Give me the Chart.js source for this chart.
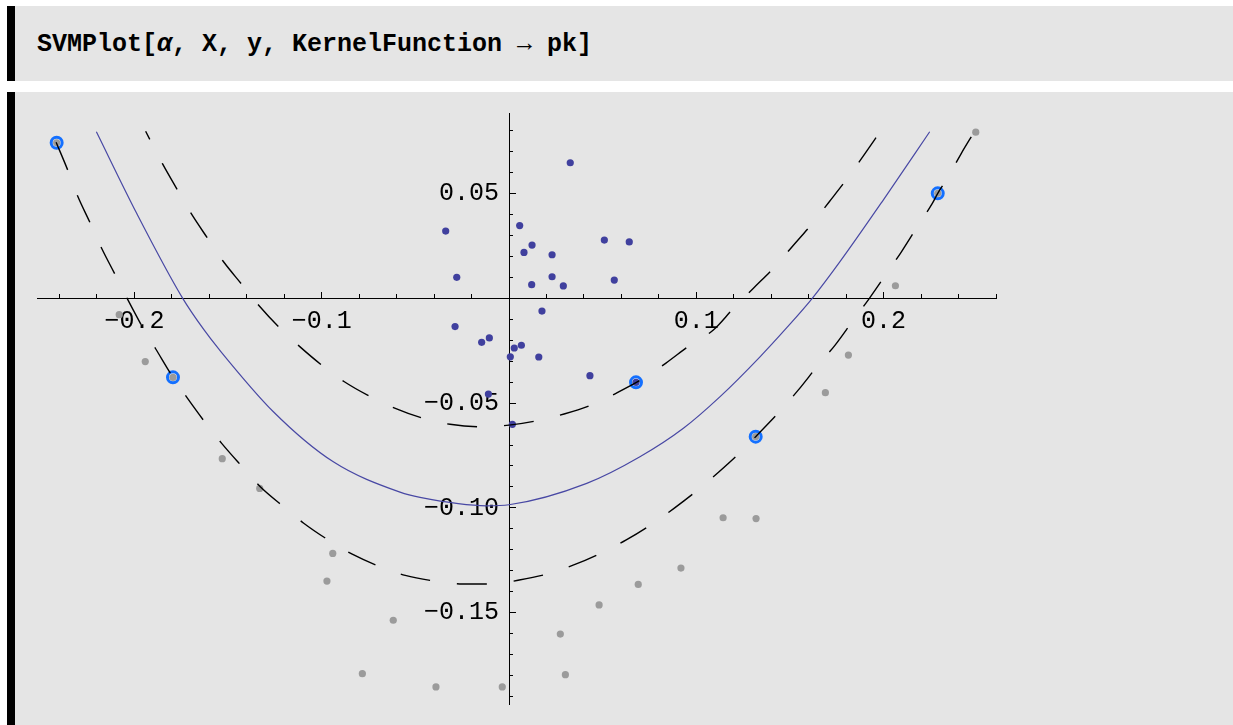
<!DOCTYPE html>
<html>
<head>
<meta charset="utf-8">
<script src="https://cdn.jsdelivr.net/npm/chart.js@4.4.1/dist/chart.umd.min.js"></script>
<style>
html,body{margin:0;padding:0;background:#fff;width:1233px;height:725px;overflow:hidden;}
#hdr{position:absolute;left:7px;top:6px;width:1218px;height:75px;background:#e5e5e5;border-left:8px solid #000;}
#hdr span.code{position:absolute;left:22px;top:25px;font:bold 25px/28px "Liberation Mono",monospace;color:#000;white-space:pre;}
#hdr i{font-style:italic;}
#cell{position:absolute;left:7px;top:92px;width:1218px;height:640px;background:#e5e5e5;border-left:8px solid #000;}
#wrap{position:absolute;left:0;top:92px;width:1233px;height:633px;}
</style>
</head>
<body>
<div id="hdr"><span class="code">SVMPlot[<i>α</i>, X, y, KernelFunction → pk]</span></div>
<div id="cell"></div>
<div id="wrap"><canvas id="c" width="1233" height="633"></canvas></div>
<script>
// ---- data ----
// class +1 (dark blue dots)
const posX = [-0.0338,-0.0279,0.0057,0.0123,0.0080,0.0230,0.0327,0.0509,0.0642,0.0121,0.0230,0.0290,0.0562,0.0176,-0.0288,-0.0105,-0.0146,0.0066,0.0028,0.0007,0.0159,0.0432,-0.0110,0.0018,0.0678];
const posY = [0.0321,0.0100,0.0347,0.0254,0.0219,0.0208,0.0647,0.0278,0.0269,0.0065,0.0103,0.0059,0.0087,-0.0061,-0.0135,-0.0189,-0.0210,-0.0224,-0.0237,-0.0279,-0.0280,-0.0369,-0.0457,-0.0601,-0.0401];
// class -1 (gray dots)
const negX = [-0.2415,-0.2081,0.2492,0.2289,0.2063,-0.1942,-0.1794,-0.1531,-0.1331,-0.0941,-0.0972,-0.0618,-0.0783,-0.0390,-0.0036,0.0274,0.0301,0.0481,0.0690,0.0918,0.1143,0.1319,0.1317,0.1812,0.1689];
const negY = [0.0742,-0.0078,0.0793,0.0501,0.0060,-0.0302,-0.0377,-0.0765,-0.0907,-0.1217,-0.1349,-0.1536,-0.1791,-0.1854,-0.1854,-0.1602,-0.1796,-0.1463,-0.1365,-0.1287,-0.1047,-0.1051,-0.0660,-0.0271,-0.0450];
// support vectors (rings)
const svX = [-0.2415,-0.1794,0.0678,0.1317,0.2289];
const svY = [0.0742,-0.0377,-0.0401,-0.0660,0.0501];
// decision boundary (solid)
const boundX = [-0.2203,-0.1988,-0.1742,-0.1628,-0.1552,-0.1258,-0.0938,-0.0582,-0.0475,-0.0120,0.0000,0.0415,0.0699,0.0931,0.1127,0.1340,0.1483,0.1619,0.1767,0.1998,0.2246];
const boundY = [0.0795,0.0406,0.0000,-0.0151,-0.0239,-0.0541,-0.0780,-0.0925,-0.0950,-0.0990,-0.0985,-0.0883,-0.0756,-0.0620,-0.0469,-0.0279,-0.0140,0.0000,0.0175,0.0469,0.0795];
// upper margin (dashed)
const upX = [-0.1940,-0.1851,-0.1772,-0.1698,-0.1609,-0.1527,-0.1427,-0.1333,-0.1226,-0.1120,-0.0998,-0.0879,-0.0740,-0.0607,-0.0457,-0.0315,-0.0155,0.0000,0.0148,0.0294,0.0443,0.0578,0.0717,0.0838,0.0966,0.1091,0.1198,0.1305,0.1416,0.1515,0.1616,0.1710,0.1805,0.1892,0.1981];
const upY = [0.0797,0.0644,0.0520,0.0406,0.0286,0.0178,0.0067,-0.0037,-0.0140,-0.0228,-0.0320,-0.0398,-0.0469,-0.0525,-0.0573,-0.0601,-0.0613,-0.0605,-0.0584,-0.0552,-0.0508,-0.0450,-0.0382,-0.0309,-0.0224,-0.0151,-0.0048,0.0048,0.0148,0.0250,0.0354,0.0461,0.0571,0.0680,0.0795];
// lower margin (dashed)
const loX = [-0.2418,-0.2356,-0.2303,-0.2237,-0.2175,-0.2104,-0.2036,-0.1953,-0.1885,-0.1794,-0.1719,-0.1625,-0.1534,-0.1429,-0.1328,-0.1208,-0.1096,-0.0965,-0.0837,-0.0692,-0.0554,-0.0397,-0.0249,-0.0092,0.0055,0.0210,0.0349,0.0495,0.0626,0.0762,0.0881,0.1007,0.1120,0.1237,0.1317,0.1447,0.1545,0.1651,0.1741,0.1835,0.1924,0.2013,0.2095,0.2180,0.2260,0.2289,0.2342,0.2415,0.2479];
const loY = [0.0745,0.0612,0.0488,0.0361,0.0239,0.0115,-0.0005,-0.0143,-0.0243,-0.0377,-0.0474,-0.0589,-0.0692,-0.0799,-0.0899,-0.0991,-0.1073,-0.1153,-0.1221,-0.1279,-0.1322,-0.1349,-0.1363,-0.1363,-0.1344,-0.1314,-0.1271,-0.1214,-0.1153,-0.1078,-0.1002,-0.0915,-0.0829,-0.0733,-0.0660,-0.0538,-0.0437,-0.0318,-0.0223,-0.0108,0.0000,0.0115,0.0222,0.0342,0.0453,0.0501,0.0575,0.0692,0.0787];
// ticks
const xMajorTicks = [-0.2,-0.1,0.1,0.2];
const xTickLabels = ['\u22120.2','\u22120.1','0.1','0.2'];
const xMinorTicks = [-0.24,-0.22,-0.20,-0.18,-0.16,-0.14,-0.12,-0.10,-0.08,-0.06,-0.04,-0.02,0.02,0.04,0.06,0.08,0.10,0.12,0.14,0.16,0.18,0.20,0.22,0.24,0.26];
const yMajorTicks = [-0.15,-0.1,-0.05,0.05];
const yTickLabels = ['\u22120.15','\u22120.10','\u22120.05','0.05'];
const yMinorTicks = [-0.19,-0.18,-0.17,-0.16,-0.15,-0.14,-0.13,-0.12,-0.11,-0.10,-0.09,-0.08,-0.07,-0.06,-0.05,-0.04,-0.03,-0.02,-0.01,0.01,0.02,0.03,0.04,0.05,0.06,0.07,0.08];

// ---- chart ----
const X_MIN = -0.252, X_MAX = 0.26, Y_MIN = -0.194, Y_MAX = 0.088;
const Y_LABEL_AT = -0.0053;
const pts = (xs, ys) => xs.map((x, i) => ({x: x, y: ys[i]}));
const axisFont = {family: '"Liberation Mono", monospace', size: 25};
const setTicks = (arr) => (s) => { s.ticks = arr.map(v => ({value: v})); };

new Chart(document.getElementById('c'), {
  type: 'scatter',
  data: {
    datasets: [
      {data: pts(boundX, boundY), showLine: true, borderColor: '#4848a4', borderWidth: 1.2, pointRadius: 0, cubicInterpolationMode: 'monotone', fill: false, order: 0},
      {data: pts(upX, upY), showLine: true, borderColor: '#000', borderWidth: 1.4, borderDash: [30, 27], borderDashOffset: 21, pointRadius: 0, cubicInterpolationMode: 'monotone', fill: false, order: 0},
      {data: pts(loX, loY), showLine: true, borderColor: '#000', borderWidth: 1.4, borderDash: [30, 27], borderDashOffset: 0, pointRadius: 0, cubicInterpolationMode: 'monotone', fill: false, order: 0},
      {data: pts(svX, svY), pointRadius: 5.5, borderWidth: 3, borderColor: '#1470ff', backgroundColor: 'rgba(0,0,0,0)', order: 1},
      {data: pts(posX, posY), pointRadius: 3.6, borderWidth: 0, backgroundColor: '#40409e', order: 2},
      {data: pts(negX, negY), pointRadius: 3.6, borderWidth: 0, backgroundColor: '#9b9b9b', order: 2}
    ]
  },
  options: {
    responsive: false,
    animation: false,
    events: [],
    devicePixelRatio: 1,
    layout: {padding: {left: 37, right: 237, top: 21.9, bottom: 20.1}},
    plugins: {legend: {display: false}, tooltip: {enabled: false}},
    scales: {
      x: {
        type: 'linear', position: {y: 0}, min: X_MIN, max: X_MAX,
        afterBuildTicks: setTicks(xMajorTicks),
        ticks: {display: true, autoSkip: false, maxRotation: 0, minRotation: 0, color: '#000', font: axisFont, padding: 15,
                callback: (v) => xTickLabels[xMajorTicks.indexOf(v)]},
        grid: {display: true, drawOnChartArea: false, drawTicks: true, tickLength: -7, tickColor: '#000', tickWidth: 1},
        border: {display: true, color: '#000', width: 1}
      },
      xMinor: {
        type: 'linear', axis: 'x', position: {y: 0}, min: X_MIN, max: X_MAX,
        afterBuildTicks: setTicks(xMinorTicks),
        ticks: {display: false},
        grid: {display: true, drawOnChartArea: false, drawTicks: true, tickLength: -4, tickColor: '#000', tickWidth: 1},
        border: {display: false}
      },
      y: {
        type: 'linear', position: {x: 0}, min: Y_MIN, max: Y_MAX,
        afterBuildTicks: setTicks(yMajorTicks),
        ticks: {display: false},
        grid: {display: true, drawOnChartArea: false, drawTicks: true, tickLength: -7, tickColor: '#000', tickWidth: 1},
        border: {display: true, color: '#000', width: 1}
      },
      yMinor: {
        type: 'linear', axis: 'y', position: {x: 0}, min: Y_MIN, max: Y_MAX,
        afterBuildTicks: setTicks(yMinorTicks),
        ticks: {display: false},
        grid: {display: true, drawOnChartArea: false, drawTicks: true, tickLength: -4, tickColor: '#000', tickWidth: 1},
        border: {display: false}
      },
      yLab: {
        type: 'linear', axis: 'y', position: {x: Y_LABEL_AT}, min: Y_MIN, max: Y_MAX,
        afterBuildTicks: setTicks(yMajorTicks),
        ticks: {display: true, autoSkip: false, color: '#000', font: axisFont, padding: 0,
                callback: (v) => yTickLabels[yMajorTicks.indexOf(v)]},
        grid: {display: false},
        border: {display: false}
      }
    }
  }
});
</script>
</body>
</html>
